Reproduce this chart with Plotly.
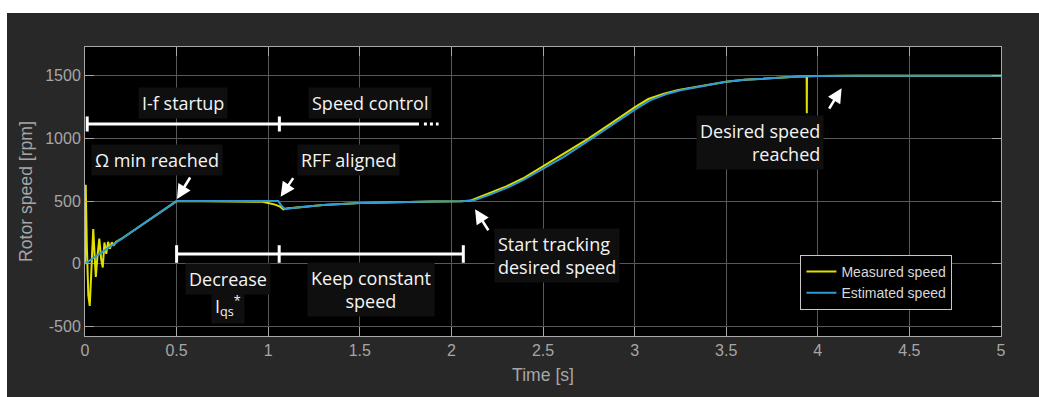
import plotly.graph_objects as go

# ---- data: rotor speed during I-f startup and speed control ----
est_t = [0.0, 0.5, 0.8, 1.0, 1.055, 1.07, 1.09, 1.12, 1.2, 1.3, 1.5, 1.7, 1.9,
         2.05, 2.12, 2.211, 2.302, 2.393, 2.5, 2.611, 2.757, 2.884, 3.01, 3.084,
         3.12, 3.17, 3.25, 3.35, 3.5, 3.6, 3.7, 3.79, 3.9, 4.0, 4.2, 5.0]
est_rpm = [0, 500, 500, 500, 500, 468, 437, 442, 455, 468, 485, 493, 497,
           499, 504, 552, 605, 669, 757, 851, 990, 1117, 1237, 1304,
           1325, 1352, 1384, 1413, 1451, 1467, 1478, 1486, 1494, 1498, 1500, 1500]

meas_t = [0.0, 0.004, 0.010, 0.018, 0.026, 0.036, 0.045, 0.052, 0.059, 0.068,
          0.078, 0.088, 0.097, 0.106, 0.116, 0.126, 0.136, 0.146, 0.158, 0.17,
          0.185, 0.2, 0.5, 0.9, 0.97, 1.0, 1.037, 1.065, 1.083, 1.1, 1.2, 1.3,
          1.5, 1.7, 1.9, 2.05, 2.1, 2.2, 2.3, 2.39, 2.49, 2.6, 2.75, 2.88, 3.0,
          3.075, 3.11, 3.16, 3.24, 3.35, 3.5, 3.6, 3.7, 3.79, 3.9, 3.939, 3.94,
          3.941, 4.0, 4.2, 5.0]
meas_rpm = [0, 630, 150, -250, -336, 50, 277, 80, -104, 60,
            200, 40, -30, 170, 80, 175, 120, 170, 150, 175,
            185, 200, 500, 500, 494, 485, 472, 456, 434, 440, 455, 468,
            485, 493, 497, 499, 502, 560, 617, 680, 768, 862, 1000, 1128, 1248,
            1314, 1333, 1357, 1387, 1414, 1451, 1467, 1478, 1486, 1494, 1496, 1200,
            1496, 1498, 1500, 1500]

x_ticks = [0, 0.5, 1, 1.5, 2, 2.5, 3, 3.5, 4, 4.5, 5]
y_ticks = [-500, 0, 500, 1000, 1500]

# ---- styling ----
W, H = 1039, 397
L, R, T, B = 85, 38, 47, 61
FIG_BG = "#282828"
AX_COL = "#a8a8a8"
GRID_COL = "#585858"
TICK_FONT = dict(family="Liberation Sans", size=16, color="#a6a6a6")
NOTE_FONT = dict(family="Open Sans", size=18, color="#f4f4f4")
NOTE_BG = "#0f0f0f"

fig = go.Figure()
fig.add_trace(go.Scatter(x=meas_t, y=meas_rpm, mode="lines", name="Measured speed",
                         line=dict(color="#e0e000", width=2), legendgroup="m"))
fig.add_trace(go.Scatter(x=est_t, y=est_rpm, mode="lines", name="Estimated speed",
                         line=dict(color="#2e9bd6", width=2), legendgroup="e"))

# text labels (data coordinates)
labels = [
    ("I-f startup", 0.535, 1282, "center"),
    ("Speed control", 1.553, 1282, "center"),
    ("\u03a9 min reached", 0.391, 828, "center"),
    ("RFF aligned", 1.44, 828, "center"),
    ("Decrease", 0.782, -118, "center"),
    ("I<sub>qs</sub><sup>*</sup>", 0.778, -340, "center"),
    ("Keep constant<br>speed", 1.563, -209, "center"),
    ("Start tracking<br>desired speed", 2.574, 70, "left"),
    ("Desired speed<br>reached", 3.687, 971, "right"),
]
for txt, lx, ly, al in labels:
    fig.add_annotation(x=lx, y=ly, text=txt, showarrow=False, align=al,
                       font=NOTE_FONT, bgcolor=NOTE_BG, borderpad=3)

# arrows: (head_x, head_y, tail_x, tail_y)
arrows = [
    (0.502, 517, 0.579, 700),
    (1.068, 535, 1.142, 695),
    (2.129, 435, 2.207, 256),
    (4.13, 1400, 4.057, 1226),
]
for hx, hy, tx, ty in arrows:
    fig.add_annotation(x=hx, y=hy, ax=tx, ay=ty, axref="x", ayref="y",
                       text="", showarrow=True, arrowhead=2, arrowsize=1.1,
                       arrowwidth=2.6, arrowcolor="white", standoff=0)

# phase bars with end marks
def bar(x0, x1, y, half, marks):
    fig.add_shape(type="line", x0=x0, x1=x1, y0=y, y1=y,
                  line=dict(color="white", width=3))
    for m in marks:
        fig.add_shape(type="line", x0=m, x1=m, y0=y - half, y1=y + half,
                      line=dict(color="white", width=3))

bar(0.012, 1.823, 1115, 60, [0.012, 1.061])
fig.add_shape(type="line", x0=1.85, x1=1.93, y0=1115, y1=1115,
              line=dict(color="white", width=3, dash="dot"))
bar(0.5, 2.065, 78, 70, [0.5, 1.06, 2.065])

# white page strips around the dark figure
pw, ph = W - L - R, H - T - B
fig.add_shape(type="rect", xref="paper", yref="paper", x0=-0.2, x1=1.2,
              y0=(H - B - 13) / ph, y1=2, fillcolor="white", line_width=0, layer="above")
fig.add_shape(type="rect", xref="paper", yref="paper", x0=-0.2,
              x1=(7 - L) / pw, y0=-1, y1=2, fillcolor="white", line_width=0, layer="above")

axis_common = dict(showline=True, linecolor=AX_COL, linewidth=1, mirror="ticks",
                   ticks="inside", ticklen=9, tickcolor=AX_COL, tickwidth=1,
                   showgrid=True, gridcolor=GRID_COL, gridwidth=1, zeroline=False,
                   tickfont=TICK_FONT)

fig.update_xaxes(range=[0, 5], tickvals=x_ticks,
                 ticktext=[f"{v:g}" for v in x_ticks],
                 title=dict(text="Time [s]", font=dict(family="Liberation Sans",
                            size=17.6, color="#a6a6a6"), standoff=10),
                 **axis_common)
fig.update_yaxes(range=[-576, 1729], tickvals=y_ticks,
                 ticktext=[str(v) for v in y_ticks],
                 title=dict(text="Rotor speed [rpm]", font=dict(family="Liberation Sans",
                            size=17.6, color="#a6a6a6"), standoff=8),
                 **axis_common)

fig.update_layout(
    width=W, height=H,
    margin=dict(l=L, r=R, t=T, b=B, autoexpand=False),
    paper_bgcolor=FIG_BG, plot_bgcolor="black",
    showlegend=True,
    legend=dict(x=0.947, y=0.09, xanchor="right", yanchor="bottom",
                bgcolor="black", bordercolor="#c8c8c8", borderwidth=1,
                font=dict(family="Liberation Sans", size=14, color="#d8d8d8"),
                traceorder="grouped", tracegroupgap=0),
)

fig.write_html("out.html")
